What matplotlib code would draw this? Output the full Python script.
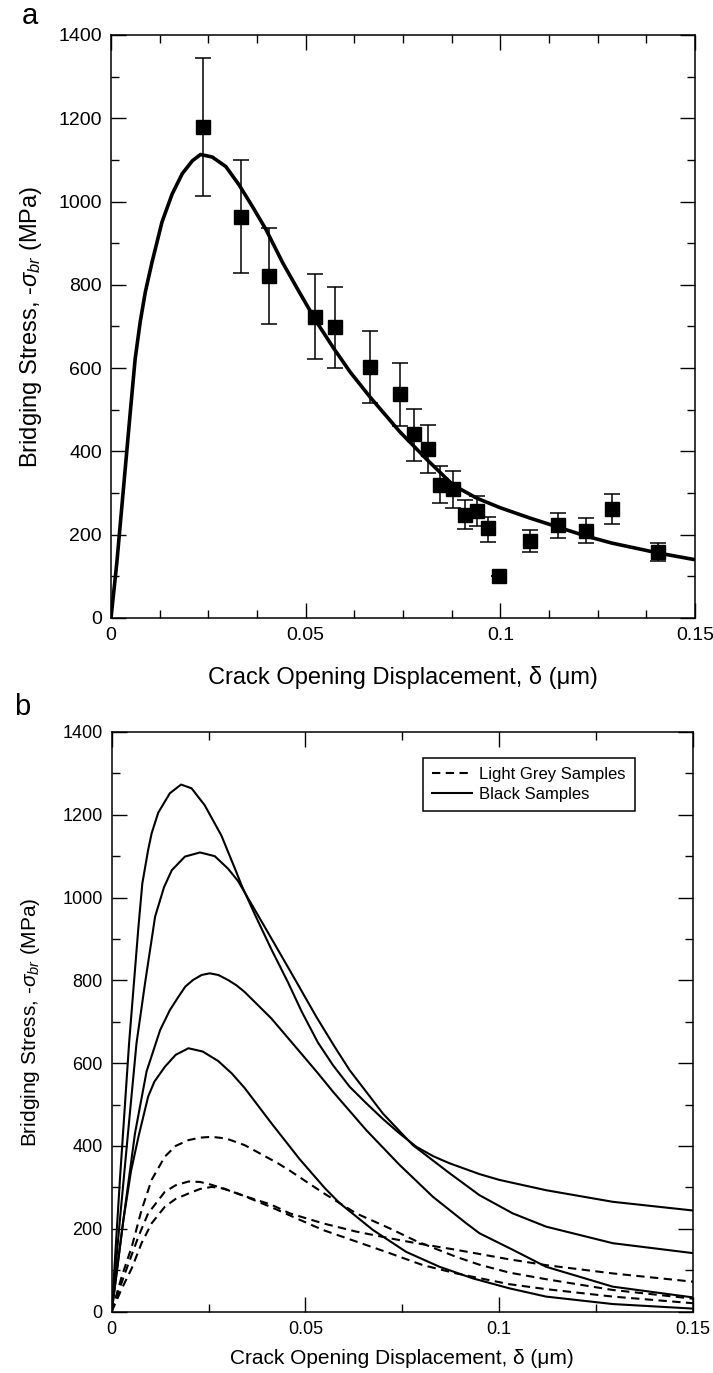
import matplotlib
matplotlib.use("Agg")
import matplotlib.pyplot as plt
from matplotlib.ticker import MultipleLocator, FuncFormatter
from matplotlib.lines import Line2D

plt.rcParams['font.family'] = ['Liberation Sans', 'DejaVu Sans']
plt.rcParams['mathtext.fontset'] = 'custom'
plt.rcParams['mathtext.rm'] = 'Liberation Sans'
plt.rcParams['mathtext.it'] = 'Liberation Sans:italic'

# ---------------- Panel a data ----------------
pts_x = [0.0236, 0.0333, 0.0407, 0.0525, 0.0575, 0.0665, 0.0742, 0.0779, 0.0813, 0.0845,
         0.0879, 0.0909, 0.0939, 0.0969, 0.0997, 0.1076, 0.1149, 0.1219, 0.1286, 0.1406]
pts_y = [1180, 963, 821, 724, 698, 602, 537, 441, 405, 319,
         309, 247, 258, 215, 101, 185, 223, 209, 262, 158]
err_top = [1345, 1099, 937, 826, 796, 688, 612, 502, 463, 365,
           353, 283, 293, 243, 101, 211, 253, 239, 298, 179]
err_bot = [1013, 828, 706, 622, 600, 517, 462, 378, 349, 275,
           265, 213, 221, 183, 101, 159, 193, 179, 226, 138]

fit_x = [0, 0.0015, 0.0032, 0.0049, 0.0062, 0.0075, 0.0088, 0.0105, 0.0131, 0.0157, 0.0183,
         0.0209, 0.0230, 0.0260, 0.0295, 0.0329, 0.0364, 0.0398, 0.0441, 0.0484, 0.0528, 0.0571,
         0.0614, 0.0665, 0.0742, 0.0813, 0.0879, 0.0939, 0.0999, 0.1076, 0.1149, 0.1219, 0.1286,
         0.1406, 0.1500]
fit_y = [0, 133, 311, 489, 622, 711, 782, 853, 951, 1018, 1067,
         1098, 1113, 1107, 1084, 1040, 987, 933, 853, 782, 711, 649,
         591, 531, 447, 379, 319, 288, 265, 240, 218, 197, 180,
         156, 140]

# ---------------- Panel b data ----------------
s1_x = [0, 0.0022, 0.0045, 0.0069, 0.0079, 0.0094, 0.0103, 0.0120, 0.0150, 0.0179, 0.0206,
        0.0240, 0.0283, 0.0318, 0.0335, 0.0369, 0.0412, 0.0455, 0.0490, 0.0532, 0.0571, 0.0614,
        0.0657, 0.0700, 0.0743, 0.0786, 0.0830, 0.0872, 0.0949, 0.1000, 0.1121, 0.1293, 0.1500]
s1_y = [0, 330, 650, 929, 1034, 1115, 1155, 1205, 1252, 1273, 1264,
        1223, 1150, 1070, 1030, 960, 875, 795, 725, 650, 595, 543,
        503, 465, 430, 398, 375, 358, 332, 318, 293, 265, 244]

s2_x = [0, 0.0022, 0.0044, 0.0064, 0.0086, 0.0112, 0.0135, 0.0155, 0.0189, 0.0228, 0.0266,
        0.0300, 0.0326, 0.0395, 0.0464, 0.0528, 0.0575, 0.0614, 0.0700, 0.0777, 0.0872, 0.0949,
        0.1035, 0.1121, 0.1293, 0.1500]
s2_y = [0, 230, 450, 648, 793, 954, 1025, 1066, 1099, 1109, 1100,
        1070, 1040, 929, 817, 712, 640, 583, 478, 402, 334, 281,
        237, 205, 165, 141]

s3_x = [0, 0.0030, 0.0060, 0.0090, 0.0125, 0.0150, 0.0172, 0.0190, 0.0210, 0.0232, 0.0253,
        0.0275, 0.0300, 0.0322, 0.0343, 0.0412, 0.0472, 0.0530, 0.0571, 0.0657, 0.0743, 0.0829,
        0.0915, 0.0949, 0.1035, 0.1121, 0.1293, 0.1500]
s3_y = [0, 220, 430, 580, 680, 728, 760, 785, 801, 813, 817,
        813, 801, 788, 772, 708, 642, 578, 531, 438, 354, 277,
        213, 189, 149, 108, 60, 34]

s4_x = [0, 0.0030, 0.0050, 0.0069, 0.0094, 0.0110, 0.0137, 0.0165, 0.0198, 0.0235, 0.0275,
        0.0310, 0.0343, 0.0412, 0.0485, 0.0550, 0.0588, 0.0674, 0.0760, 0.0846, 0.0932, 0.1026,
        0.1121, 0.1293, 0.1500]
s4_y = [0, 220, 340, 422, 519, 555, 591, 620, 636, 628, 605,
        575, 540, 455, 368, 298, 262, 197, 144, 108, 80, 56,
        36, 18, 7]

d1_x = [0, 0.0026, 0.0052, 0.0077, 0.0103, 0.0137, 0.0165, 0.0198, 0.0228, 0.0258, 0.0295,
        0.0343, 0.0429, 0.0460, 0.0545, 0.0631, 0.0717, 0.0786, 0.0889, 0.0949, 0.1026, 0.1121,
        0.1293, 0.1500]
d1_y = [0, 85, 157, 245, 318, 374, 400, 414, 420, 422, 418,
        402, 358, 340, 287, 237, 201, 170, 132, 113, 94, 78,
        52, 31]

d2_x = [0, 0.0022, 0.0043, 0.0069, 0.0094, 0.0137, 0.0165, 0.0198, 0.0228, 0.0258, 0.0326,
        0.0412, 0.0460, 0.0545, 0.0631, 0.0717, 0.0803, 0.0889, 0.1026, 0.1121, 0.1293, 0.1500]
d2_y = [0, 60, 115, 181, 237, 289, 305, 314, 313, 306, 285,
        252, 232, 197, 169, 141, 112, 92, 66, 54, 36, 20]

d3_x = [0, 0.0026, 0.0052, 0.0077, 0.0103, 0.0137, 0.0165, 0.0198, 0.0228, 0.0258, 0.0290,
        0.0326, 0.0412, 0.0460, 0.0545, 0.0631, 0.0717, 0.0786, 0.0889, 0.1026, 0.1121, 0.1293,
        0.1500]
d3_y = [0, 55, 105, 165, 213, 253, 272, 285, 296, 301, 297,
        284, 258, 237, 213, 193, 177, 165, 149, 126, 112, 92,
        72]

xlabel = "Crack Opening Displacement, \u03b4 (\u03bcm)"
ylabel = r"Bridging Stress, -$\sigma_{br}$ (MPa)"
legend_labels = ["Light Grey Samples", "Black Samples"]


def fmt_x(v, pos):
    if abs(v) < 1e-12:
        return "0"
    s = "%.3f" % v
    return s.rstrip("0").rstrip(".")


fig = plt.figure(figsize=(7.13, 13.73), dpi=100)
ax1 = fig.add_axes([111 / 713, 1 - 618 / 1373, 584 / 713, 583 / 1373])
ax2 = fig.add_axes([111.7 / 713, 1 - 1311.5 / 1373, 581.3 / 713, 579.5 / 1373])


def style(ax, xminor, lsize):
    ax.set_xlim(0, 0.15)
    ax.set_ylim(0, 1400)
    ax.xaxis.set_major_locator(MultipleLocator(0.05))
    ax.xaxis.set_minor_locator(MultipleLocator(xminor))
    ax.yaxis.set_major_locator(MultipleLocator(200))
    ax.yaxis.set_minor_locator(MultipleLocator(100))
    ax.xaxis.set_major_formatter(FuncFormatter(fmt_x))
    ax.tick_params(which='both', direction='in', top=True, right=True, width=1.0,
                   labelsize=lsize, pad=6.5)
    ax.tick_params(which='major', length=10.5)
    ax.tick_params(which='minor', length=5.5)
    for sp in ax.spines.values():
        sp.set_linewidth(1.1)


# ---- Panel a ----
style(ax1, 0.0125, 14)
ax1.plot(fit_x, fit_y, color='black', lw=2.6, zorder=2, solid_joinstyle='round')
lo = [y - b for y, b in zip(pts_y, err_bot)]
hi = [t - y for y, t in zip(pts_y, err_top)]
ax1.errorbar(pts_x, pts_y, yerr=[lo, hi], fmt='s', color='black', ms=10,
             capsize=5.5, elinewidth=1.1, capthick=1.1, zorder=3)
ax1.set_xlabel(xlabel, fontsize=17)
ax1.set_ylabel(ylabel, fontsize=17)
ax1.xaxis.label.set_va('center')
ax1.yaxis.label.set_va('center')
ax1.xaxis.set_label_coords(0.5, (618 - 678) / 583)
ax1.yaxis.set_label_coords((31 - 111) / 584, 0.5)

# ---- Panel b ----
style(ax2, 0.025, 13)
dash = (0, (4, 2.6))
for xs, ys in [(d1_x, d1_y), (d2_x, d2_y), (d3_x, d3_y)]:
    ax2.plot(xs, ys, color='black', lw=1.5, linestyle=dash)
for xs, ys in [(s1_x, s1_y), (s2_x, s2_y), (s3_x, s3_y), (s4_x, s4_y)]:
    ax2.plot(xs, ys, color='black', lw=1.5, solid_joinstyle='round')

handles = [Line2D([], [], color='black', lw=1.5, linestyle=dash),
           Line2D([], [], color='black', lw=1.5)]
leg = ax2.legend(handles, legend_labels, loc='upper left',
                 bbox_to_anchor=((423 - 111.7) / 581.3, (1311.5 - 758) / 579.5),
                 borderaxespad=0, frameon=True, fancybox=False, framealpha=1,
                 edgecolor='black', fontsize=12, handlelength=2.4, handletextpad=0.4,
                 borderpad=0.55, labelspacing=0.3)
leg.get_frame().set_linewidth(1.1)

ax2.set_xlabel(xlabel, fontsize=15)
ax2.set_ylabel(ylabel, fontsize=15)
ax2.xaxis.label.set_va('center')
ax2.yaxis.label.set_va('center')
ax2.xaxis.set_label_coords(0.5, (1311.5 - 1358) / 579.5)
ax2.yaxis.set_label_coords((30 - 111.7) / 581.3, 0.5)

fig.text(30 / 713, 1 - 16 / 1373, "a", fontsize=21, ha='center', va='center')
fig.text(22 / 713, 1 - 707 / 1373, "b", fontsize=21, ha='center', va='center')

fig.savefig("out.png", dpi=100)
